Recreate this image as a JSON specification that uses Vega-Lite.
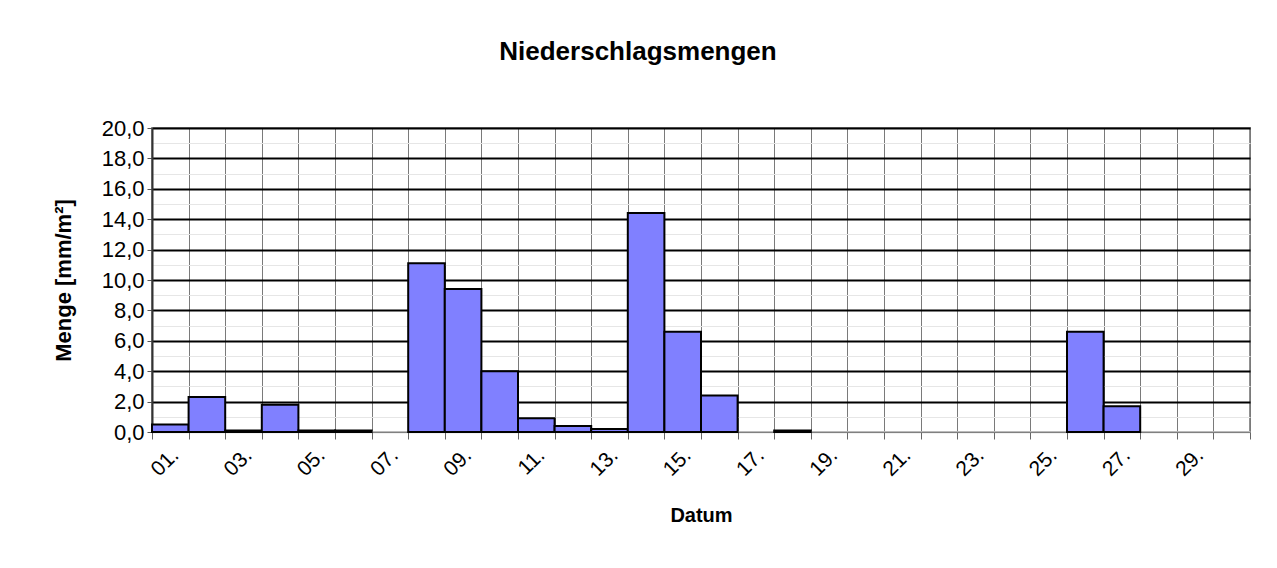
{
  "$schema": "https://vega.github.io/schema/vega-lite/v6.json",
  "width": 1098,
  "height": 304,
  "autosize": {"type": "none"},
  "padding": {"left": 152, "top": 128, "right": 27, "bottom": 136},
  "background": "white",
  "title": {
    "text": "Niederschlagsmengen",
    "font": "Liberation Sans",
    "fontSize": 26,
    "fontWeight": "bold",
    "color": "black",
    "offset": 52,
    "dx": -63
  },
  "data": {
    "values": [
      {"tag": "01.", "menge": 0.5},
      {"tag": "02.", "menge": 2.3},
      {"tag": "03.", "menge": 0.1},
      {"tag": "04.", "menge": 1.8},
      {"tag": "05.", "menge": 0.1},
      {"tag": "06.", "menge": 0.1},
      {"tag": "07.", "menge": 0},
      {"tag": "08.", "menge": 11.1},
      {"tag": "09.", "menge": 9.4},
      {"tag": "10.", "menge": 4.0},
      {"tag": "11.", "menge": 0.9},
      {"tag": "12.", "menge": 0.4},
      {"tag": "13.", "menge": 0.2},
      {"tag": "14.", "menge": 14.4},
      {"tag": "15.", "menge": 6.6},
      {"tag": "16.", "menge": 2.4},
      {"tag": "17.", "menge": 0},
      {"tag": "18.", "menge": 0.1},
      {"tag": "19.", "menge": 0},
      {"tag": "20.", "menge": 0},
      {"tag": "21.", "menge": 0},
      {"tag": "22.", "menge": 0},
      {"tag": "23.", "menge": 0},
      {"tag": "24.", "menge": 0},
      {"tag": "25.", "menge": 0},
      {"tag": "26.", "menge": 6.6},
      {"tag": "27.", "menge": 1.7},
      {"tag": "28.", "menge": 0},
      {"tag": "29.", "menge": 0},
      {"tag": "30.", "menge": 0}
    ]
  },
  "mark": {"type": "bar", "fill": "#8080ff", "stroke": "black", "strokeWidth": 2},
  "encoding": {
    "x": {
      "field": "tag",
      "type": "ordinal",
      "sort": null,
      "scale": {"paddingInner": 0, "paddingOuter": 0},
      "axis": {
        "title": "Datum",
        "titleFont": "Liberation Sans",
        "titleFontSize": 20,
        "titleFontWeight": "bold",
        "titleColor": "black",
        "titlePadding": 26,
        "labelAngle": -45,
        "labelFont": "Liberation Sans",
        "labelFontSize": 21,
        "labelColor": "black",
        "labelExpr": "parseInt(datum.value) % 2 == 1 ? datum.value : ''",
        "labelPadding": 5,
        "labelOffset": -3,
        "tickBand": "extent",
        "tickColor": "#666",
        "tickSize": 7,
        "domainColor": "#808080",
        "domainWidth": 1,
        "grid": true,
        "gridColor": "#7a7a7a",
        "gridWidth": 1
      }
    },
    "y": {
      "field": "menge",
      "type": "quantitative",
      "scale": {"domain": [0, 20], "nice": false},
      "axis": {
        "title": "Menge [mm/m²]",
        "titleFont": "Liberation Sans",
        "titleFontSize": 22,
        "titleFontWeight": "bold",
        "titleColor": "black",
        "titlePadding": 26,
        "values": [0,1,2,3,4,5,6,7,8,9,10,11,12,13,14,15,16,17,18,19,20],
        "labelExpr": "datum.value % 2 == 0 ? replace(format(datum.value, '.1f'), '.', ',') : ''",
        "labelFont": "Liberation Sans",
        "labelFontSize": 22,
        "labelColor": "black",
        "labelPadding": 3,
        "ticks": true,
        "tickSize": 5,
        "tickColor": {"condition": {"test": "datum.value % 2 == 1", "value": "transparent"}, "value": "#555"},
        "domainColor": "#333",
        "domainWidth": 2,
        "grid": true,
        "gridColor": {"condition": {"test": "datum.value % 2 == 1 || datum.value == 0", "value": "#e6e6e6"}, "value": "black"},
        "gridWidth": {"condition": {"test": "datum.value % 2 == 1", "value": 1}, "value": 2}
      }
    },
    "strokeOpacity": {"condition": {"test": "datum.menge == 0", "value": 0}, "value": 1}
  },
  "config": {
    "view": {"stroke": "#909090", "strokeWidth": 2},
    "font": "Liberation Sans"
  }
}
